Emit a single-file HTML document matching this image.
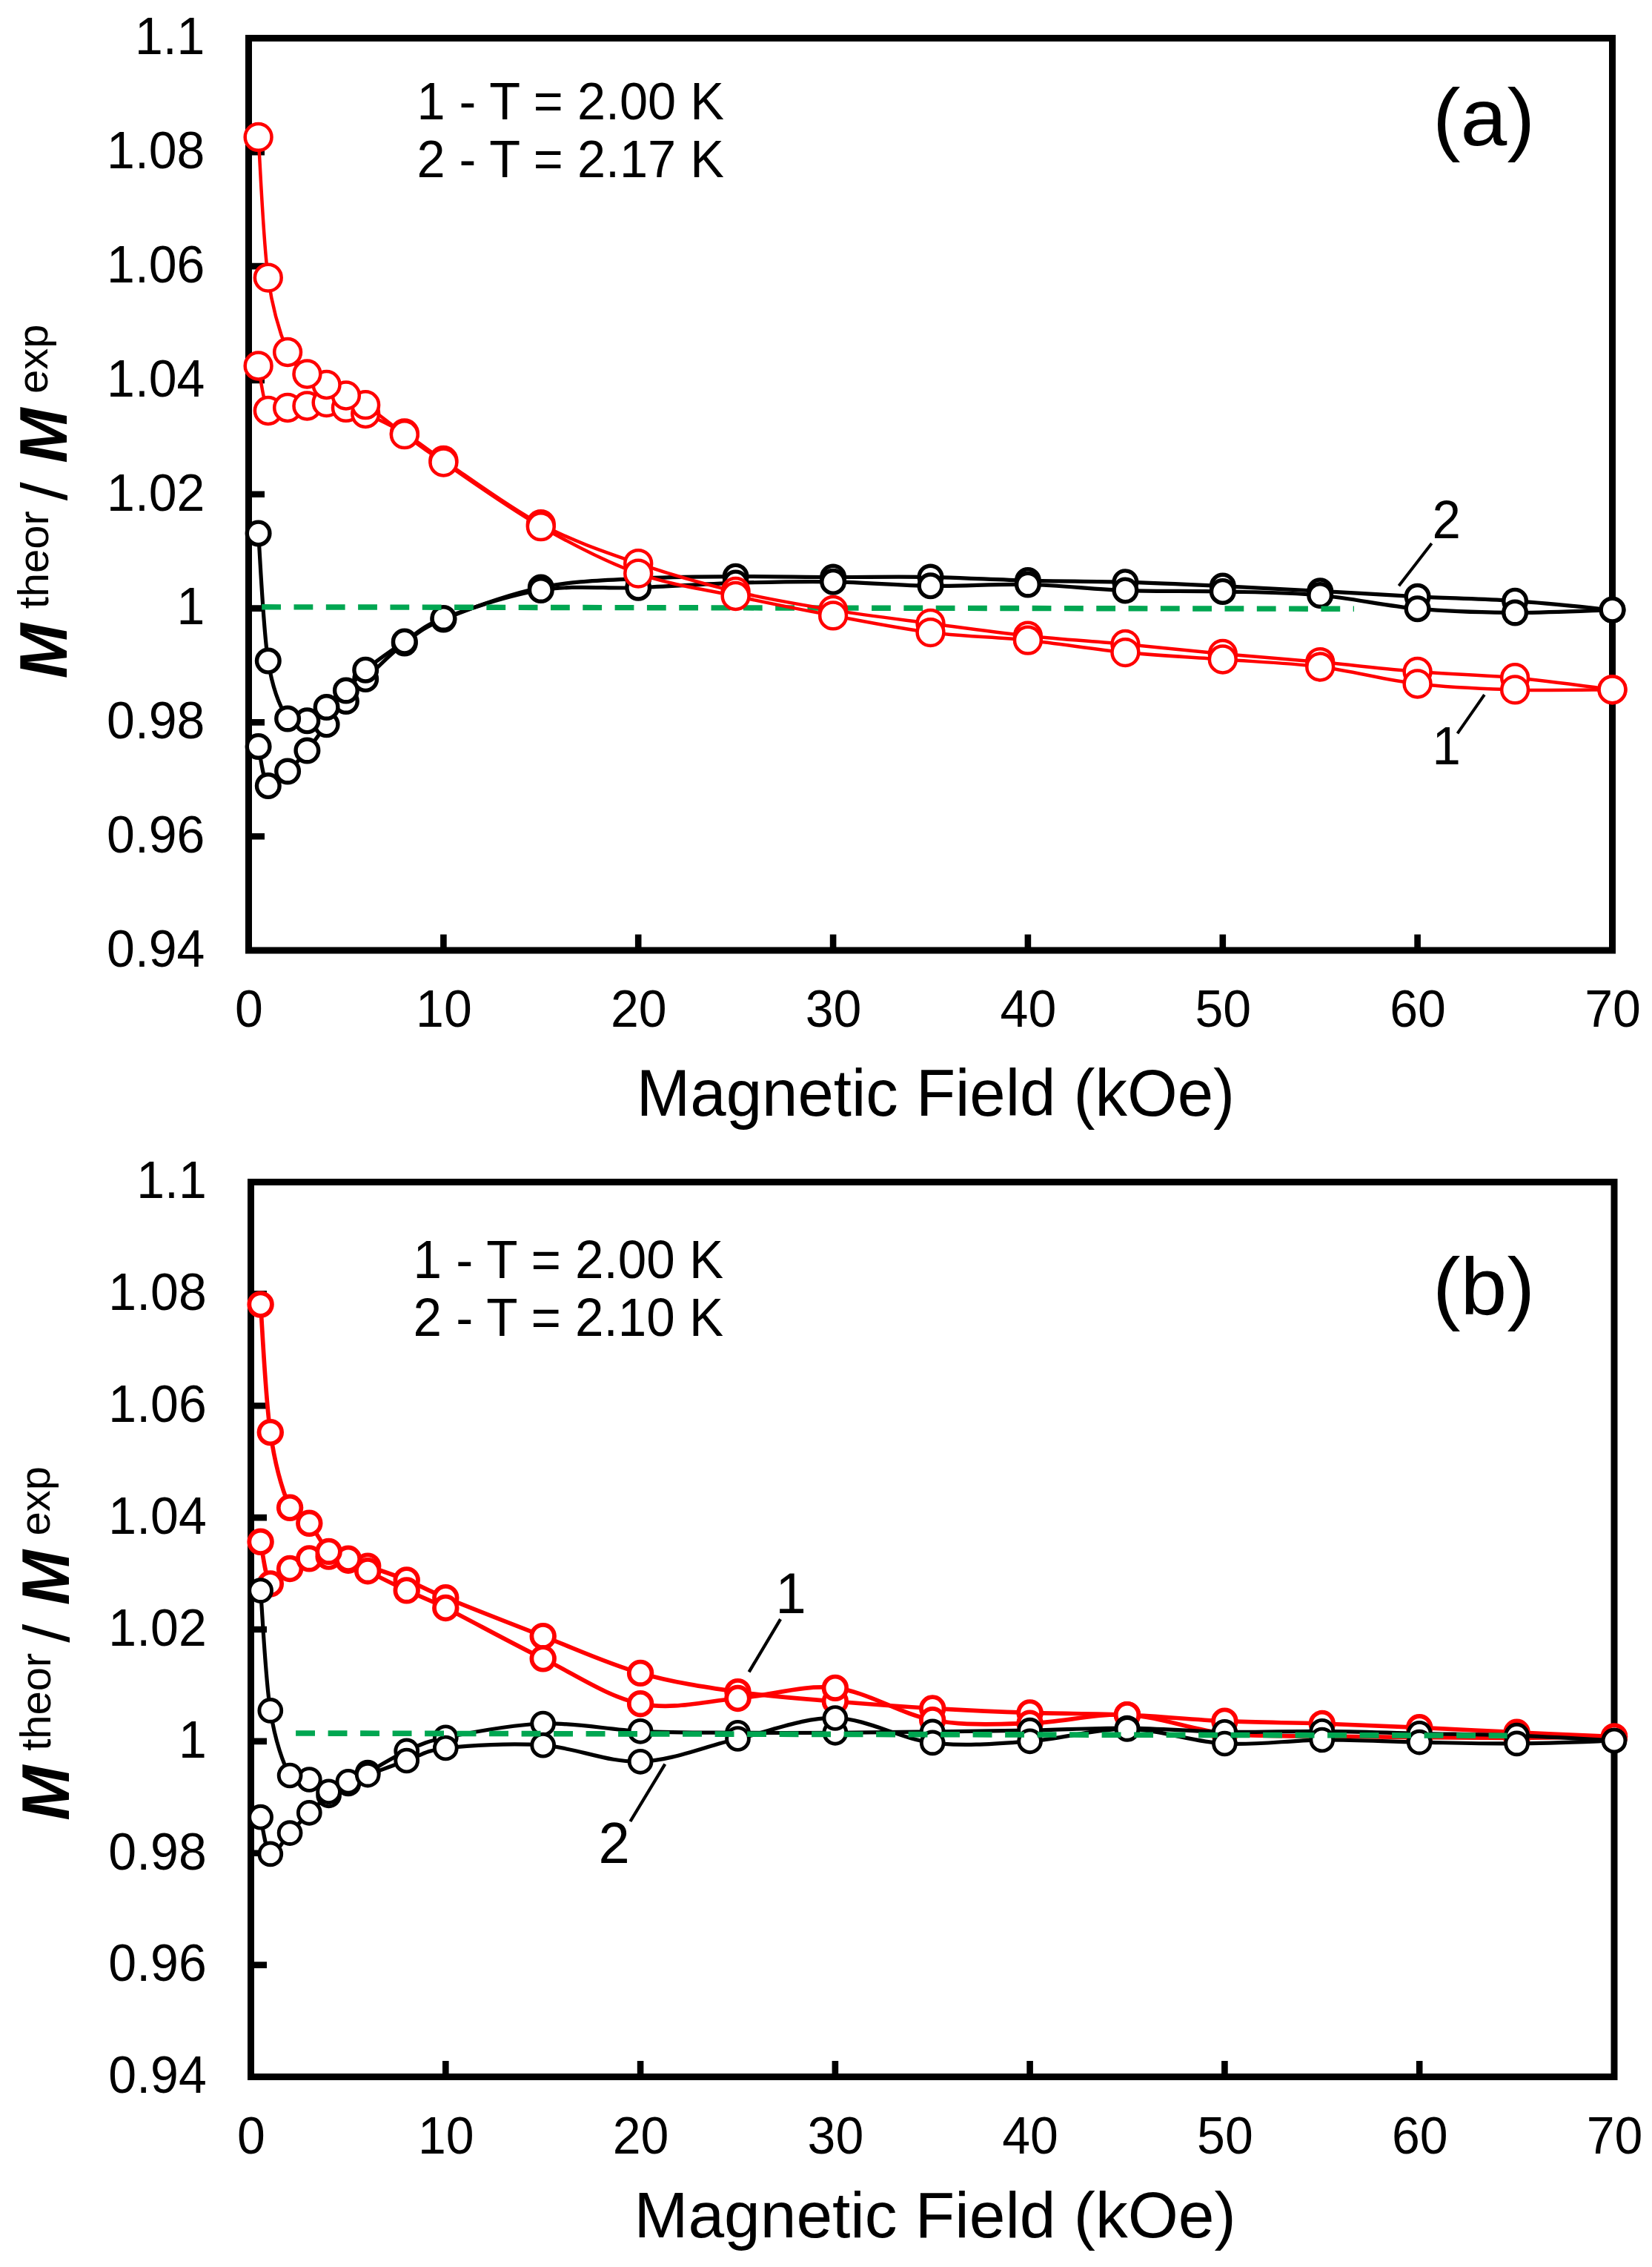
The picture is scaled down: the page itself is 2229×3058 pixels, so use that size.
<!DOCTYPE html>
<html lang="en"><head><meta charset="utf-8"><title>M theor / M exp vs Magnetic Field</title>
<style>html,body{margin:0;padding:0;background:#fff}body{width:2229px;height:3058px;overflow:hidden}svg{display:block}text{font-family:'Liberation Sans', sans-serif;fill:#000}</style></head><body>
<svg width="2229" height="3058" viewBox="0 0 2229 3058">
<rect width="2229" height="3058" fill="#fff"/>
<g id="panel-a">
<g stroke="#000" stroke-width="9" fill="none">
<rect x="335.5" y="51.5" width="1840" height="1230.5"/>
<path d="M335.5 1128.2H357M335.5 974.4H357M335.5 820.6H357M335.5 666.7H357M335.5 512.9H357M335.5 359.1H357M335.5 205.3H357M598.4 1282V1260.5M861.2 1282V1260.5M1124.1 1282V1260.5M1386.9 1282V1260.5M1649.8 1282V1260.5M1912.6 1282V1260.5" stroke-width="8.6"/>
</g>
<text transform="translate(276.4 1303.8) scale(1 1.04)" font-size="68" text-anchor="end">0.94</text>
<text transform="translate(276.4 1150) scale(1 1.04)" font-size="68" text-anchor="end">0.96</text>
<text transform="translate(276.4 996.2) scale(1 1.04)" font-size="68" text-anchor="end">0.98</text>
<text transform="translate(276.4 842.4) scale(1 1.04)" font-size="68" text-anchor="end">1</text>
<text transform="translate(276.4 688.5) scale(1 1.04)" font-size="68" text-anchor="end">1.02</text>
<text transform="translate(276.4 534.7) scale(1 1.04)" font-size="68" text-anchor="end">1.04</text>
<text transform="translate(276.4 380.9) scale(1 1.04)" font-size="68" text-anchor="end">1.06</text>
<text transform="translate(276.4 227.1) scale(1 1.04)" font-size="68" text-anchor="end">1.08</text>
<text transform="translate(276.4 73.3) scale(1 1.04)" font-size="68" text-anchor="end">1.1</text>
<text transform="translate(336 1384.7) scale(1 1.04)" font-size="68" text-anchor="middle">0</text>
<text transform="translate(598.9 1384.7) scale(1 1.04)" font-size="68" text-anchor="middle">10</text>
<text transform="translate(861.7 1384.7) scale(1 1.04)" font-size="68" text-anchor="middle">20</text>
<text transform="translate(1124.6 1384.7) scale(1 1.04)" font-size="68" text-anchor="middle">30</text>
<text transform="translate(1387.4 1384.7) scale(1 1.04)" font-size="68" text-anchor="middle">40</text>
<text transform="translate(1650.3 1384.7) scale(1 1.04)" font-size="68" text-anchor="middle">50</text>
<text transform="translate(1913.1 1384.7) scale(1 1.04)" font-size="68" text-anchor="middle">60</text>
<text transform="translate(2176 1384.7) scale(1 1.04)" font-size="68" text-anchor="middle">70</text>
<text transform="translate(858.8 1505) scale(1 1.03)" font-size="87" text-anchor="start">Magnetic Field (kOe)</text>
<text transform="translate(90.2 915.3) rotate(-90) scale(1 1.03)" font-size="89" font-weight="bold" font-style="italic">M</text>
<text transform="translate(64.7 821.3) rotate(-90) scale(1 1.0)" font-size="58">theor</text>
<text transform="translate(90.2 675.2) rotate(-90) scale(1 0.96)" font-size="90">/</text>
<text transform="translate(90.2 624.7) rotate(-90) scale(1 1.03)" font-size="89" font-weight="bold" font-style="italic">M</text>
<text transform="translate(64.2 531.1) rotate(-90) scale(1 1.0)" font-size="58">exp</text>
<g stroke="#000" fill="none">
<path d="M348.6 1006.9C350.8 1015.8 355.2 1054.5 361.8 1060.1C368.4 1065.7 379.3 1048.4 388.1 1040.5C396.8 1032.6 405.6 1023 414.4 1012.5C423.1 1002 431.9 988.4 440.6 977.3C449.4 966.2 458.2 956.2 466.9 946C475.7 935.8 480.1 929.2 493.2 916.1C506.4 903 528.3 880.9 545.8 867.5C563.3 854.1 569.9 847.1 598.4 835.5C629 823 686 801.7 729.8 792.5C773.6 783.3 817.4 782.8 861.2 780.3C905 777.8 948.8 778 992.6 777.7C1036.5 777.4 1080.3 778.4 1124.1 778.5C1167.9 778.6 1211.7 777.7 1255.5 778.5C1299.3 779.3 1343.1 782 1386.9 783.1C1430.7 784.2 1474.5 784 1518.4 785.2C1562.2 786.5 1606 788.6 1649.8 790.6C1693.6 792.6 1737.4 794.9 1781.2 797.3C1825 799.7 1868.8 802.6 1912.6 804.8C1956.5 807 2000.3 807.7 2044.1 810.7C2087.9 813.7 2153.6 820.7 2175.5 822.7" stroke-width="5.2" stroke-linejoin="round"/>
<g fill="#fff" stroke-width="5.4">
<circle cx="348.6" cy="1006.9" r="15.3"/>
<circle cx="361.8" cy="1060.1" r="15.3"/>
<circle cx="388.1" cy="1040.5" r="15.3"/>
<circle cx="414.4" cy="1012.5" r="15.3"/>
<circle cx="440.6" cy="977.3" r="15.3"/>
<circle cx="466.9" cy="946" r="15.3"/>
<circle cx="493.2" cy="916.1" r="15.3"/>
<circle cx="545.8" cy="867.5" r="15.3"/>
<circle cx="598.4" cy="835.5" r="15.3"/>
<circle cx="729.8" cy="792.5" r="15.3"/>
<circle cx="861.2" cy="780.3" r="15.3"/>
<circle cx="992.6" cy="777.7" r="15.3"/>
<circle cx="1124.1" cy="778.5" r="15.3"/>
<circle cx="1255.5" cy="778.5" r="15.3"/>
<circle cx="1386.9" cy="783.1" r="15.3"/>
<circle cx="1518.4" cy="785.2" r="15.3"/>
<circle cx="1649.8" cy="790.6" r="15.3"/>
<circle cx="1781.2" cy="797.3" r="15.3"/>
<circle cx="1912.6" cy="804.8" r="15.3"/>
<circle cx="2044.1" cy="810.7" r="15.3"/>
<circle cx="2175.5" cy="822.7" r="15.3"/>
</g></g>
<g stroke="#000" fill="none">
<path d="M348.6 719.4C350.8 748.1 355.2 849.9 361.8 891.6C368.2 932.2 379.3 956 388.1 969.5C395.3 980.6 405.6 974.9 414.4 972.3C423.1 969.7 431.9 960.8 440.6 954C449.4 947.2 458.2 939.9 466.9 931.5C475.7 923.1 480.1 914.7 493.2 903.7C506.4 892.7 528.3 877.2 545.8 865.6C563.3 854 569.7 844.9 598.4 834C629 822.4 686 802.9 729.8 796C773.6 789.1 817.4 794.3 861.2 792.7C905 791.1 948.8 787.7 992.6 786.4C1036.5 785.1 1080.3 784.1 1124.1 784.8C1167.9 785.4 1211.7 789.7 1255.5 790.3C1299.3 790.9 1343.1 787.5 1386.9 788.5C1430.7 789.5 1474.5 794.8 1518.4 796.4C1562.2 798 1606 796.8 1649.8 797.9C1693.6 799 1737.4 799.1 1781.2 803C1825 806.9 1868.8 817.3 1912.6 821.2C1956.5 825.1 2000.3 826.2 2044.1 826.5C2087.9 826.8 2153.6 823.3 2175.5 822.7" stroke-width="5.2" stroke-linejoin="round"/>
<g fill="#fff" stroke-width="5.4">
<circle cx="414.4" cy="972.3" r="15.3"/>
<circle cx="348.6" cy="719.4" r="15.3"/>
<circle cx="361.8" cy="891.6" r="15.3"/>
<circle cx="388.1" cy="969.5" r="15.3"/>
<circle cx="440.6" cy="954" r="15.3"/>
<circle cx="466.9" cy="931.5" r="15.3"/>
<circle cx="493.2" cy="903.7" r="15.3"/>
<circle cx="545.8" cy="865.6" r="15.3"/>
<circle cx="598.4" cy="834" r="15.3"/>
<circle cx="729.8" cy="796" r="15.3"/>
<circle cx="861.2" cy="792.7" r="15.3"/>
<circle cx="992.6" cy="786.4" r="15.3"/>
<circle cx="1124.1" cy="784.8" r="15.3"/>
<circle cx="1255.5" cy="790.3" r="15.3"/>
<circle cx="1386.9" cy="788.5" r="15.3"/>
<circle cx="1518.4" cy="796.4" r="15.3"/>
<circle cx="1649.8" cy="797.9" r="15.3"/>
<circle cx="1781.2" cy="803" r="15.3"/>
<circle cx="1912.6" cy="821.2" r="15.3"/>
<circle cx="2044.1" cy="826.5" r="15.3"/>
<circle cx="2175.5" cy="822.7" r="15.3"/>
</g></g>
<path d="M353.2 818.8L1827 821.3" stroke="#00A651" stroke-width="7.4" stroke-dasharray="25.8 17.51" fill="none"/>
<g stroke="#FF0000" fill="none">
<path d="M348.6 493.5C350.8 503.6 355.2 544.6 361.8 554C368.4 563.4 379.3 551.1 388.1 550C396.8 548.9 405.6 548.6 414.4 547.5C423.1 546.4 431.9 542.7 440.6 543.1C449.4 543.5 458.2 547.4 466.9 549.9C475.7 552.4 480.6 552.5 493.2 558C506.4 563.8 528.3 574 545.8 584.5C563.3 595 571.7 603.2 598.4 621C629 641.5 686 684 729.8 707.2C773.6 730.4 817.4 745 861.2 760.1C905 775.2 948.8 787.5 992.6 798C1036.5 808.5 1080.3 815.7 1124.1 822.9C1167.9 830.1 1211.7 835.2 1255.5 841C1299.3 846.8 1343.1 853.1 1386.9 857.7C1430.7 862.4 1474.5 864.9 1518.4 868.9C1562.2 872.9 1606 877.9 1649.8 881.9C1693.6 885.9 1737.4 889.1 1781.2 893.1C1825 897.1 1868.8 902.5 1912.6 906C1956.5 909.5 2000.3 910.2 2044.1 914.2C2087.9 918.2 2153.6 927.6 2175.5 930.3" stroke-width="4.5" stroke-linejoin="round"/>
<g fill="#fff" stroke-width="4.5">
<circle cx="348.6" cy="493.5" r="17.9"/>
<circle cx="361.8" cy="554" r="17.9"/>
<circle cx="388.1" cy="550" r="17.9"/>
<circle cx="414.4" cy="547.5" r="17.9"/>
<circle cx="440.6" cy="543.1" r="17.9"/>
<circle cx="466.9" cy="549.9" r="17.9"/>
<circle cx="493.2" cy="558" r="17.9"/>
<circle cx="545.8" cy="584.5" r="17.9"/>
<circle cx="598.4" cy="621" r="17.9"/>
<circle cx="729.8" cy="707.2" r="17.9"/>
<circle cx="861.2" cy="760.1" r="17.9"/>
<circle cx="992.6" cy="798" r="17.9"/>
<circle cx="1124.1" cy="822.9" r="17.9"/>
<circle cx="1255.5" cy="841" r="17.9"/>
<circle cx="1386.9" cy="857.7" r="17.9"/>
<circle cx="1518.4" cy="868.9" r="17.9"/>
<circle cx="1649.8" cy="881.9" r="17.9"/>
<circle cx="1781.2" cy="893.1" r="17.9"/>
<circle cx="1912.6" cy="906" r="17.9"/>
<circle cx="2044.1" cy="914.2" r="17.9"/>
<circle cx="2175.5" cy="930.3" r="17.9"/>
</g></g>
<g stroke="#FF0000" fill="none">
<path d="M348.6 184.9C350.8 216.5 355.2 326.2 361.8 374.6C368.4 423 379.3 453.4 388.1 475C395.5 493.3 405.6 497.2 414.4 504.5C423.1 511.8 431.9 514.2 440.6 519C449.4 523.8 458.2 529 466.9 533.5C475.7 538 481.1 538.1 493.2 546.2C506.4 555 528.3 573.3 545.8 586.2C563.3 599.1 571.6 605.5 598.4 623.5C629 644.2 686 685.2 729.8 710.2C773.6 735.2 817.4 758 861.2 773.6C905 789.2 948.8 794.5 992.6 804C1036.5 813.5 1080.3 822.2 1124.1 830.4C1167.9 838.6 1211.7 847.5 1255.5 853.1C1299.3 858.7 1343.1 859.2 1386.9 863.7C1430.7 868.2 1474.5 875.8 1518.4 880.1C1562.2 884.4 1606 886.3 1649.8 889.5C1693.6 892.7 1737.4 894 1781.2 899.5C1825 905 1868.8 917.4 1912.6 922.5C1956.5 927.6 2000.3 929.1 2044.1 930.4C2087.9 931.7 2153.6 930.3 2175.5 930.3" stroke-width="4.5" stroke-linejoin="round"/>
<g fill="#fff" stroke-width="4.5">
<circle cx="2175.5" cy="930.3" r="17.9"/>
<circle cx="2044.1" cy="930.4" r="17.9"/>
<circle cx="1912.6" cy="922.5" r="17.9"/>
<circle cx="1781.2" cy="899.5" r="17.9"/>
<circle cx="1649.8" cy="889.5" r="17.9"/>
<circle cx="1518.4" cy="880.1" r="17.9"/>
<circle cx="1386.9" cy="863.7" r="17.9"/>
<circle cx="1255.5" cy="853.1" r="17.9"/>
<circle cx="1124.1" cy="830.4" r="17.9"/>
<circle cx="992.6" cy="804" r="17.9"/>
<circle cx="861.2" cy="773.6" r="17.9"/>
<circle cx="729.8" cy="710.2" r="17.9"/>
<circle cx="598.4" cy="623.5" r="17.9"/>
<circle cx="545.8" cy="586.2" r="17.9"/>
<circle cx="493.2" cy="546.2" r="17.9"/>
<circle cx="466.9" cy="533.5" r="17.9"/>
<circle cx="440.6" cy="519" r="17.9"/>
<circle cx="414.4" cy="504.5" r="17.9"/>
<circle cx="388.1" cy="475" r="17.9"/>
<circle cx="361.8" cy="374.6" r="17.9"/>
<circle cx="348.6" cy="184.9" r="17.9"/>
</g></g>
<text transform="translate(562.5 160.8) scale(1 1.04)" font-size="68.5" text-anchor="start">1 - T = 2.00 K</text>
<text transform="translate(562.5 238.7) scale(1 1.04)" font-size="68.5" text-anchor="start">2 - T = 2.17 K</text>
<text transform="translate(1933 195.9) scale(1 0.97)" font-size="113" text-anchor="start">(a)</text>
<text transform="translate(1932.5 726.4) scale(1 1.04)" font-size="69" text-anchor="start">2</text>
<text transform="translate(1932.5 1031.4) scale(1 1.04)" font-size="69" text-anchor="start">1</text>
<path d="M1931.7 733L1887.4 790.3M2002.9 937.1L1966.5 989.3" stroke="#000" stroke-width="4" fill="none"/>
</g>
<g id="panel-b">
<g stroke="#000" stroke-width="9" fill="none">
<rect x="338.5" y="1594.5" width="1839.5" height="1207"/>
<path d="M338.5 2650.6H360M338.5 2499.7H360M338.5 2348.9H360M338.5 2198H360M338.5 2047.1H360M338.5 1896.2H360M338.5 1745.4H360M601.3 2801.5V2780M864.1 2801.5V2780M1126.9 2801.5V2780M1389.6 2801.5V2780M1652.4 2801.5V2780M1915.2 2801.5V2780" stroke-width="8.6"/>
</g>
<text transform="translate(278.7 2823.3) scale(1 1.04)" font-size="68" text-anchor="end">0.94</text>
<text transform="translate(278.7 2672.4) scale(1 1.04)" font-size="68" text-anchor="end">0.96</text>
<text transform="translate(278.7 2521.5) scale(1 1.04)" font-size="68" text-anchor="end">0.98</text>
<text transform="translate(278.7 2370.7) scale(1 1.04)" font-size="68" text-anchor="end">1</text>
<text transform="translate(278.7 2219.8) scale(1 1.04)" font-size="68" text-anchor="end">1.02</text>
<text transform="translate(278.7 2068.9) scale(1 1.04)" font-size="68" text-anchor="end">1.04</text>
<text transform="translate(278.7 1918) scale(1 1.04)" font-size="68" text-anchor="end">1.06</text>
<text transform="translate(278.7 1767.2) scale(1 1.04)" font-size="68" text-anchor="end">1.08</text>
<text transform="translate(278.7 1616.3) scale(1 1.04)" font-size="68" text-anchor="end">1.1</text>
<text transform="translate(339 2905) scale(1 1.04)" font-size="68" text-anchor="middle">0</text>
<text transform="translate(601.8 2905) scale(1 1.04)" font-size="68" text-anchor="middle">10</text>
<text transform="translate(864.6 2905) scale(1 1.04)" font-size="68" text-anchor="middle">20</text>
<text transform="translate(1127.4 2905) scale(1 1.04)" font-size="68" text-anchor="middle">30</text>
<text transform="translate(1390.1 2905) scale(1 1.04)" font-size="68" text-anchor="middle">40</text>
<text transform="translate(1652.9 2905) scale(1 1.04)" font-size="68" text-anchor="middle">50</text>
<text transform="translate(1915.7 2905) scale(1 1.04)" font-size="68" text-anchor="middle">60</text>
<text transform="translate(2178.5 2905) scale(1 1.04)" font-size="68" text-anchor="middle">70</text>
<text transform="translate(855.5 3018) scale(1 1.0)" font-size="87.5" text-anchor="start">Magnetic Field (kOe)</text>
<text transform="translate(92.9 2455.8) rotate(-90) scale(1 1.03)" font-size="89" font-weight="bold" font-style="italic">M</text>
<text transform="translate(67.5 2361.8) rotate(-90) scale(1 1.0)" font-size="58">theor</text>
<text transform="translate(92.9 2215.7) rotate(-90) scale(1 0.96)" font-size="90">/</text>
<text transform="translate(92.9 2165.2) rotate(-90) scale(1 1.03)" font-size="89" font-weight="bold" font-style="italic">M</text>
<text transform="translate(67 2071.6) rotate(-90) scale(1 1.0)" font-size="58">exp</text>
<g stroke="#FF0000" fill="none">
<path d="M351.6 2079.8C353.8 2089.2 358.2 2130.5 364.8 2136.5C371.3 2142.5 382.3 2121.7 391.1 2116C399.8 2110.3 408.6 2105.1 417.3 2102.4C426.1 2099.7 434.9 2099.2 443.6 2099.6C452.4 2100 461.1 2102.5 469.9 2104.7C478.7 2106.9 483.2 2108.2 496.2 2112.6C509.3 2117.1 531.2 2124.3 548.7 2131.4C566.2 2138.5 574.6 2144.2 601.3 2155.2C631.9 2167.8 688.9 2190.1 732.7 2207.1C776.5 2224.1 820.3 2244.4 864.1 2256.9C907.9 2269.4 951.7 2275.8 995.5 2282.2C1039.3 2288.5 1083.1 2291.3 1126.9 2295C1170.7 2298.7 1214.5 2301.9 1258.2 2304.5C1302 2307.1 1345.8 2309 1389.6 2310.4C1433.4 2311.8 1477.2 2311.3 1521 2313.2C1564.8 2315.1 1608.6 2319.7 1652.4 2321.7C1696.2 2323.7 1740 2323.6 1783.8 2325C1827.6 2326.4 1871.4 2328.3 1915.2 2330.3C1959 2332.3 2002.8 2334.7 2046.6 2336.8C2090.4 2338.9 2156.1 2341.7 2178 2342.7" stroke-width="5.7" stroke-linejoin="round"/>
<g fill="#fff" stroke-width="5.8">
<circle cx="351.6" cy="2079.8" r="15.3"/>
<circle cx="364.8" cy="2136.5" r="15.3"/>
<circle cx="391.1" cy="2116" r="15.3"/>
<circle cx="417.3" cy="2102.4" r="15.3"/>
<circle cx="443.6" cy="2099.6" r="15.3"/>
<circle cx="469.9" cy="2104.7" r="15.3"/>
<circle cx="496.2" cy="2112.6" r="15.3"/>
<circle cx="548.7" cy="2131.4" r="15.3"/>
<circle cx="601.3" cy="2155.2" r="15.3"/>
<circle cx="732.7" cy="2207.1" r="15.3"/>
<circle cx="864.1" cy="2256.9" r="15.3"/>
<circle cx="995.5" cy="2282.2" r="15.3"/>
<circle cx="1126.9" cy="2295" r="15.3"/>
<circle cx="1258.2" cy="2304.5" r="15.3"/>
<circle cx="1389.6" cy="2310.4" r="15.3"/>
<circle cx="1521" cy="2313.2" r="15.3"/>
<circle cx="1652.4" cy="2321.7" r="15.3"/>
<circle cx="1783.8" cy="2325" r="15.3"/>
<circle cx="1915.2" cy="2330.3" r="15.3"/>
<circle cx="2046.6" cy="2336.8" r="15.3"/>
<circle cx="2178" cy="2342.7" r="15.3"/>
</g></g>
<g stroke="#FF0000" fill="none">
<path d="M351.6 1759.6C353.8 1788.3 358.2 1886.4 364.8 1932.1C371.3 1977.8 382.3 2013.3 391.1 2033.8C397.7 2049.3 408.6 2045 417.3 2054.8C426.1 2064.7 434.9 2084.9 443.6 2092.9C452.4 2100.9 461.1 2098.4 469.9 2102.8C478.7 2107.2 483 2112.1 496.2 2119.2C509.3 2126.3 531.2 2137.1 548.7 2145.4C566.2 2153.7 575.5 2156.1 601.3 2169C631.9 2184.3 688.9 2215.8 732.7 2237.3C776.5 2258.8 820.3 2289.2 864.1 2298.2C907.9 2307.1 951.7 2294.6 995.5 2291C1039.3 2287.4 1083.1 2272 1126.9 2276.9C1170.7 2281.8 1214.5 2312.2 1258.2 2320.2C1302 2328.1 1345.8 2325.8 1389.6 2324.6C1433.4 2323.4 1477.2 2310.9 1521 2313.2C1564.8 2315.5 1608.6 2333.7 1652.4 2338.5C1696.2 2343.3 1740 2341.2 1783.8 2342C1827.6 2342.8 1871.4 2343.1 1915.2 2343.5C1959 2343.9 2002.8 2344.4 2046.6 2344.3C2090.4 2344.2 2156.1 2343 2178 2342.7" stroke-width="5.7" stroke-linejoin="round"/>
<g fill="#fff" stroke-width="5.8">
<circle cx="2178" cy="2342.7" r="15.3"/>
<circle cx="2046.6" cy="2344.3" r="15.3"/>
<circle cx="1915.2" cy="2343.5" r="15.3"/>
<circle cx="1783.8" cy="2342" r="15.3"/>
<circle cx="1652.4" cy="2338.5" r="15.3"/>
<circle cx="1521" cy="2313.2" r="15.3"/>
<circle cx="1389.6" cy="2324.6" r="15.3"/>
<circle cx="1258.2" cy="2320.2" r="15.3"/>
<circle cx="1126.9" cy="2276.9" r="15.3"/>
<circle cx="995.5" cy="2291" r="15.3"/>
<circle cx="864.1" cy="2298.2" r="15.3"/>
<circle cx="732.7" cy="2237.3" r="15.3"/>
<circle cx="601.3" cy="2169" r="15.3"/>
<circle cx="548.7" cy="2145.4" r="15.3"/>
<circle cx="496.2" cy="2119.2" r="15.3"/>
<circle cx="469.9" cy="2102.8" r="15.3"/>
<circle cx="443.6" cy="2092.9" r="15.3"/>
<circle cx="417.3" cy="2054.8" r="15.3"/>
<circle cx="391.1" cy="2033.8" r="15.3"/>
<circle cx="364.8" cy="1932.1" r="15.3"/>
<circle cx="351.6" cy="1759.6" r="15.3"/>
</g></g>
<g stroke="#000" fill="none">
<path d="M351.6 2451.2C353.8 2459.5 358.2 2497.3 364.8 2500.9C371.3 2504.5 382.3 2481.9 391.1 2472.6C399.8 2463.3 408.6 2453.8 417.3 2445.3C426.1 2436.8 434.9 2428.4 443.6 2421.8C452.4 2415.2 461.1 2411.1 469.9 2406C478.7 2400.9 483 2398.3 496.2 2391C509.3 2383.7 531.2 2369.8 548.7 2361.9C566.2 2354 574 2349.3 601.3 2343.8C631.9 2337.7 688.9 2326.4 732.7 2325C776.5 2323.6 820.3 2333.2 864.1 2335.3C907.9 2337.4 951.7 2337 995.5 2337.3C1039.3 2337.6 1083.1 2337.5 1126.9 2337.3C1170.7 2337.1 1214.5 2336.4 1258.2 2335.9C1302 2335.4 1345.8 2335 1389.6 2334.2C1433.4 2333.4 1477.2 2330.7 1521 2331C1564.8 2331.3 1608.6 2335.6 1652.4 2336.3C1696.2 2337 1740 2335 1783.8 2335.3C1827.6 2335.6 1871.4 2337.3 1915.2 2338.3C1959 2339.3 2002.8 2339.6 2046.6 2341.2C2090.4 2342.8 2156.1 2346.9 2178 2348" stroke-width="5.2" stroke-linejoin="round"/>
<g fill="#fff" stroke-width="4.9">
<circle cx="351.6" cy="2451.2" r="14.9"/>
<circle cx="364.8" cy="2500.9" r="14.9"/>
<circle cx="391.1" cy="2472.6" r="14.9"/>
<circle cx="417.3" cy="2445.3" r="14.9"/>
<circle cx="443.6" cy="2421.8" r="14.9"/>
<circle cx="469.9" cy="2406" r="14.9"/>
<circle cx="496.2" cy="2391" r="14.9"/>
<circle cx="548.7" cy="2361.9" r="14.9"/>
<circle cx="601.3" cy="2343.8" r="14.9"/>
<circle cx="732.7" cy="2325" r="14.9"/>
<circle cx="864.1" cy="2335.3" r="14.9"/>
<circle cx="995.5" cy="2337.3" r="14.9"/>
<circle cx="1126.9" cy="2337.3" r="14.9"/>
<circle cx="1258.2" cy="2335.9" r="14.9"/>
<circle cx="1389.6" cy="2334.2" r="14.9"/>
<circle cx="1521" cy="2331" r="14.9"/>
<circle cx="1652.4" cy="2336.3" r="14.9"/>
<circle cx="1783.8" cy="2335.3" r="14.9"/>
<circle cx="1915.2" cy="2338.3" r="14.9"/>
<circle cx="2046.6" cy="2341.2" r="14.9"/>
<circle cx="2178" cy="2348" r="14.9"/>
</g></g>
<g stroke="#000" fill="none">
<path d="M351.6 2145.6C353.8 2172.6 358.2 2265.8 364.8 2307.4C371.3 2349 382.3 2379.5 391.1 2395C397.7 2406.7 408.6 2396.9 417.3 2400.5C426.1 2404.1 434.9 2416.3 443.6 2416.8C452.4 2417.3 461.1 2407.1 469.9 2403.3C478.7 2399.5 483.1 2398.8 496.2 2394.1C509.3 2389.4 531.2 2381 548.7 2375C566.2 2369 573.8 2361.1 601.3 2358C631.9 2354.5 688.9 2351.1 732.7 2354.2C776.5 2357.2 820.3 2377.8 864.1 2376.3C907.9 2374.9 951.7 2355.3 995.5 2345.5C1039.3 2335.7 1083.1 2316.6 1126.9 2317.5C1170.7 2318.4 1214.5 2345.7 1258.2 2350.9C1302 2356.1 1345.8 2351.9 1389.6 2348.8C1433.4 2345.7 1477.2 2331.9 1521 2332.4C1564.8 2332.9 1608.6 2349.6 1652.4 2352C1696.2 2354.4 1740 2347.3 1783.8 2347C1827.6 2346.7 1871.4 2349.3 1915.2 2350.1C1959 2350.9 2002.8 2352.2 2046.6 2351.9C2090.4 2351.6 2156.1 2348.7 2178 2348" stroke-width="5.2" stroke-linejoin="round"/>
<g fill="#fff" stroke-width="4.9">
<circle cx="417.3" cy="2400.5" r="14.9"/>
<circle cx="351.6" cy="2145.6" r="14.9"/>
<circle cx="364.8" cy="2307.4" r="14.9"/>
<circle cx="391.1" cy="2395" r="14.9"/>
<circle cx="443.6" cy="2416.8" r="14.9"/>
<circle cx="469.9" cy="2403.3" r="14.9"/>
<circle cx="496.2" cy="2394.1" r="14.9"/>
<circle cx="548.7" cy="2375" r="14.9"/>
<circle cx="601.3" cy="2358" r="14.9"/>
<circle cx="732.7" cy="2354.2" r="14.9"/>
<circle cx="864.1" cy="2376.3" r="14.9"/>
<circle cx="995.5" cy="2345.5" r="14.9"/>
<circle cx="1126.9" cy="2317.5" r="14.9"/>
<circle cx="1258.2" cy="2350.9" r="14.9"/>
<circle cx="1389.6" cy="2348.8" r="14.9"/>
<circle cx="1521" cy="2332.4" r="14.9"/>
<circle cx="1652.4" cy="2352" r="14.9"/>
<circle cx="1783.8" cy="2347" r="14.9"/>
<circle cx="1915.2" cy="2350.1" r="14.9"/>
<circle cx="2046.6" cy="2351.9" r="14.9"/>
<circle cx="2178" cy="2348" r="14.9"/>
</g></g>
<path d="M399.1 2338L2033.7 2341.2" stroke="#00A651" stroke-width="7.6" stroke-dasharray="25.9 17.6" fill="none"/>
<text transform="translate(557.5 1724.4) scale(1 1.04)" font-size="69.2" text-anchor="start">1 - T = 2.00 K</text>
<text transform="translate(557.5 1802.4) scale(1 1.04)" font-size="69.2" text-anchor="start">2 - T = 2.10 K</text>
<text transform="translate(1933 1773) scale(1 0.97)" font-size="113" text-anchor="start">(b)</text>
<text transform="translate(1046.5 2175.9) scale(1 1.04)" font-size="74" text-anchor="start">1</text>
<text transform="translate(807.4 2512.6) scale(1 1.02)" font-size="76" text-anchor="start">2</text>
<path d="M1053.1 2184.2L1010.6 2255.4M897.3 2379.6L850.4 2457" stroke="#000" stroke-width="4.3" fill="none"/>
</g>
</svg></body></html>
